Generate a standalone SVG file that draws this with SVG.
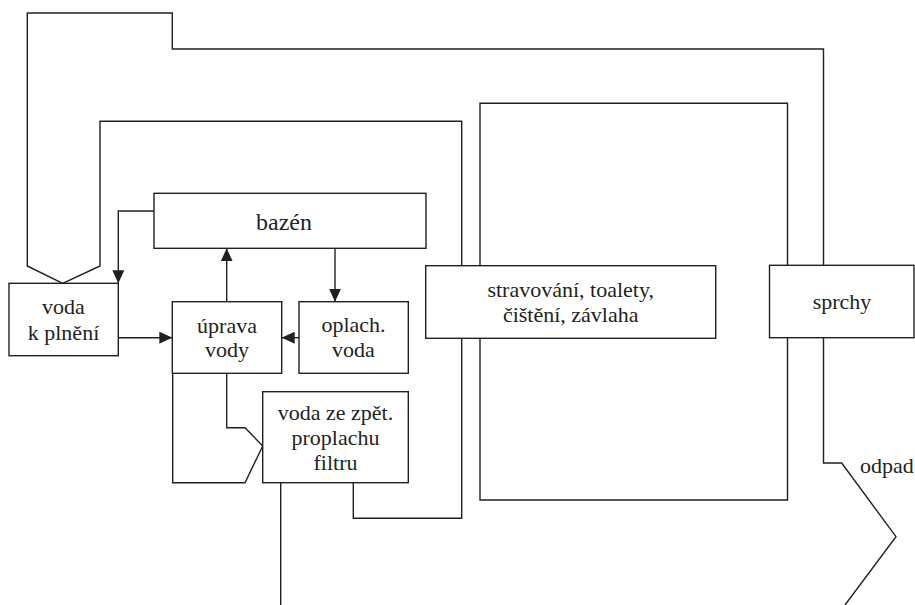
<svg xmlns="http://www.w3.org/2000/svg" width="915" height="605" viewBox="0 0 915 605">
<style>
.ln{fill:none;stroke:#231f20;stroke-width:1.4;stroke-linejoin:miter}
.bx{fill:#fff;stroke:#231f20;stroke-width:1.4}
.t{font-family:'Liberation Serif','DejaVu Serif',serif;font-size:22px;fill:#231f20;text-anchor:middle}
</style>
<defs>
<marker id="ah" markerUnits="userSpaceOnUse" markerWidth="13" markerHeight="12" refX="13" refY="6" orient="auto">
<path d="M0,0 L13,6 L0,12 Z" fill="#231f20"/>
</marker>
</defs>
<rect width="915" height="605" fill="#fff"/>
<g id="connectors">
<path class="ln" d="M845,605 L896,536.7 L841.7,463 L823.5,463 L823.5,49 L172.3,49 L172.3,13 L27.3,13 L27.3,266 L62.7,283.3"/>
<path class="ln" d="M787.5,103.3 L480,103.3 L480,500 L787.5,500 Z"/>
<path class="ln" d="M353.3,482.7 L353.3,518.3 L461.7,518.3 L461.7,121.3 L100,121.3 L100,266 L62.7,283.3"/>
<path class="ln" d="M154,211 L118.3,211 L118.3,283.3" marker-end="url(#ah)"/>
<path class="ln" d="M118.3,337.7 L172.3,337.7" marker-end="url(#ah)"/>
<path class="ln" d="M299,337.7 L281.7,337.7" marker-end="url(#ah)"/>
<path class="ln" d="M226.7,301.7 L226.7,248.3" marker-end="url(#ah)"/>
<path class="ln" d="M335,248.3 L335,301.7" marker-end="url(#ah)"/>
<path class="ln" d="M226.7,373.3 L226.7,427.7 L245,427.7 L262.7,446"/>
<path class="ln" d="M172.7,373.3 L172.7,482.7 L245,482.7 L262.7,446"/>
<path class="ln" d="M280.7,482.7 L280.7,605"/>
</g>
<g id="bazen">
<rect class="bx" x="154" y="193.3" width="272" height="55"/>
<text class="t" x="284" y="229.5" font-size="24" style="font-size:24px">bazén</text>
</g>
<g id="voda-k-plneni">
<rect class="bx" x="9" y="283.3" width="109.3" height="72.4"/>
<text class="t" x="63.5" y="314">voda</text>
<text class="t" x="63.5" y="340">k plnění</text>
</g>
<g id="uprava-vody">
<rect class="bx" x="172.3" y="301.7" width="109.4" height="71.6"/>
<text class="t" x="227" y="333">úprava</text>
<text class="t" x="227" y="357">vody</text>
</g>
<g id="oplach-voda">
<rect class="bx" x="299" y="301.7" width="109.3" height="71.6"/>
<text class="t" x="353.5" y="332">oplach.</text>
<text class="t" x="353.5" y="357">voda</text>
</g>
<g id="voda-ze-zpet">
<rect class="bx" x="262.7" y="391.7" width="145.6" height="91"/>
<text class="t" x="335.5" y="420">voda ze zpět.</text>
<text class="t" x="335.5" y="445">proplachu</text>
<text class="t" x="335.5" y="470">filtru</text>
</g>
<g id="stravovani">
<rect class="bx" x="425.7" y="265.7" width="290" height="72.6"/>
<text class="t" x="570.7" y="297">stravování, toalety,</text>
<text class="t" x="570.7" y="322">čištění, závlaha</text>
</g>
<g id="sprchy">
<rect class="bx" x="769.5" y="265.3" width="144.5" height="72.4"/>
<text class="t" x="842" y="309">sprchy</text>
</g>
<g id="odpad">
<text class="t" x="860" y="473" style="text-anchor:start">odpad</text>
</g>
</svg>
